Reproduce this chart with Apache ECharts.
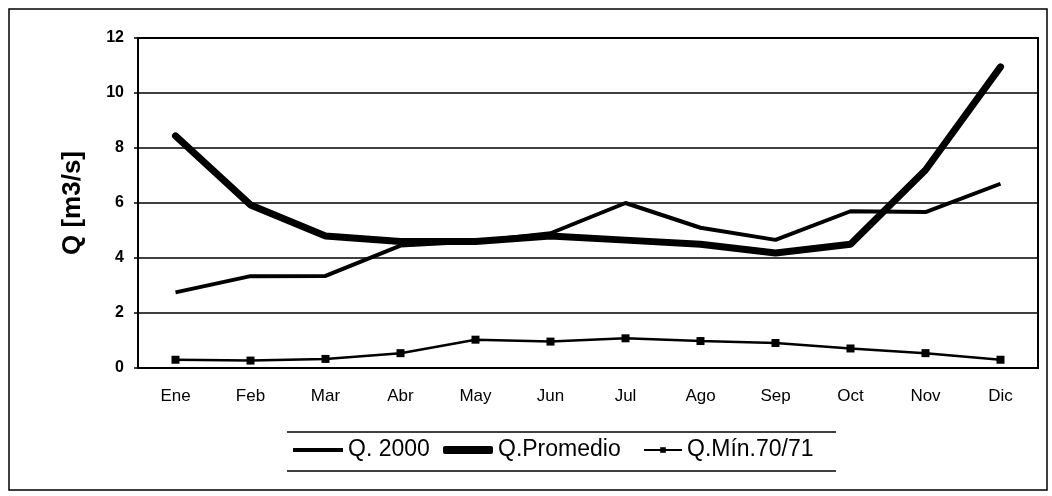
<!DOCTYPE html>
<html><head><meta charset="utf-8">
<script src="https://cdn.jsdelivr.net/npm/echarts@6/dist/echarts.min.js"></script>
<style>html,body{margin:0;padding:0;background:#fff}#c{width:1052px;height:496px}</style>
</head><body><div id="c"></div>
<script>
const categories = ['Ene','Feb','Mar','Abr','May','Jun','Jul','Ago','Sep','Oct','Nov','Dic'];
const q2000 = [2.75,3.34,3.35,4.45,4.6,4.9,6.0,5.1,4.66,5.7,5.67,6.7];
const qPromedio = [8.44,5.93,4.8,4.6,4.6,4.8,4.65,4.5,4.18,4.5,7.2,10.95];
const qMin = [0.3,0.27,0.33,0.54,1.03,0.96,1.08,0.98,0.91,0.71,0.54,0.3];
const seriesNames = ['Q. 2000','Q.Promedio','Q.Mín.70/71'];
const yTicks = {min:0, max:12, interval:2};
const font = 'Liberation Sans, Arial, sans-serif';
const legendText = {color:'#000',fontSize:23,fontFamily:font,lineHeight:24};
const chart = echarts.init(document.getElementById('c'));
chart.setOption({
  animation:false,
  backgroundColor:'#fff',
  grid:{left:138,right:14,top:38,bottom:128,show:true,borderColor:'#000',borderWidth:2,backgroundColor:'transparent'},
  xAxis:{type:'category',data:categories,boundaryGap:true,
    axisLine:{lineStyle:{color:'#000',width:2}},
    axisTick:{inside:true,length:5,lineStyle:{color:'#000',width:1.5}},
    axisLabel:{color:'#000',fontSize:17,fontFamily:font,margin:20}},
  yAxis:{type:'value',min:yTicks.min,max:yTicks.max,interval:yTicks.interval,
    name:'Q [m3/s]',nameLocation:'middle',nameGap:52,nameRotate:90,
    nameTextStyle:{color:'#000',fontSize:26,fontWeight:'bold',fontFamily:font},
    axisLine:{show:true,lineStyle:{color:'#000',width:2}},
    axisTick:{show:true,length:4,lineStyle:{color:'#000',width:1.5}},
    axisLabel:{color:'#000',fontSize:16,fontWeight:'bold',fontFamily:font,margin:14},
    splitLine:{lineStyle:{color:'#000',width:1.5}}},
  legend:[
    {data:[seriesNames[0]],left:293,top:438,padding:0,icon:'rect',itemWidth:50,itemHeight:4,textStyle:legendText},
    {data:[seriesNames[1]],left:443,top:438,padding:0,icon:'roundRect',itemWidth:50,itemHeight:8,textStyle:legendText},
    {data:[seriesNames[2]],left:643,top:438,padding:0,itemWidth:38,itemHeight:7,textStyle:legendText}
  ],
  graphic:[
    {type:'rect',shape:{x:9,y:9,width:1038,height:481},style:{fill:'none',stroke:'#000',lineWidth:1.5},silent:true},
    {type:'line',shape:{x1:287,y1:432,x2:836,y2:432},style:{stroke:'#000',lineWidth:1.5},silent:true},
    {type:'line',shape:{x1:287,y1:471,x2:836,y2:471},style:{stroke:'#000',lineWidth:1.5},silent:true}
  ],
  series:[
    {name:seriesNames[0],type:'line',data:q2000,symbol:'none',lineStyle:{color:'#000',width:4},itemStyle:{color:'#000'}},
    {name:seriesNames[1],type:'line',data:qPromedio,symbol:'none',lineStyle:{color:'#000',width:7,cap:'round'},itemStyle:{color:'#000'}},
    {name:seriesNames[2],type:'line',data:qMin,symbol:'rect',symbolSize:8,lineStyle:{color:'#000',width:2.5},itemStyle:{color:'#000'}}
  ]
});
</script></body></html>
